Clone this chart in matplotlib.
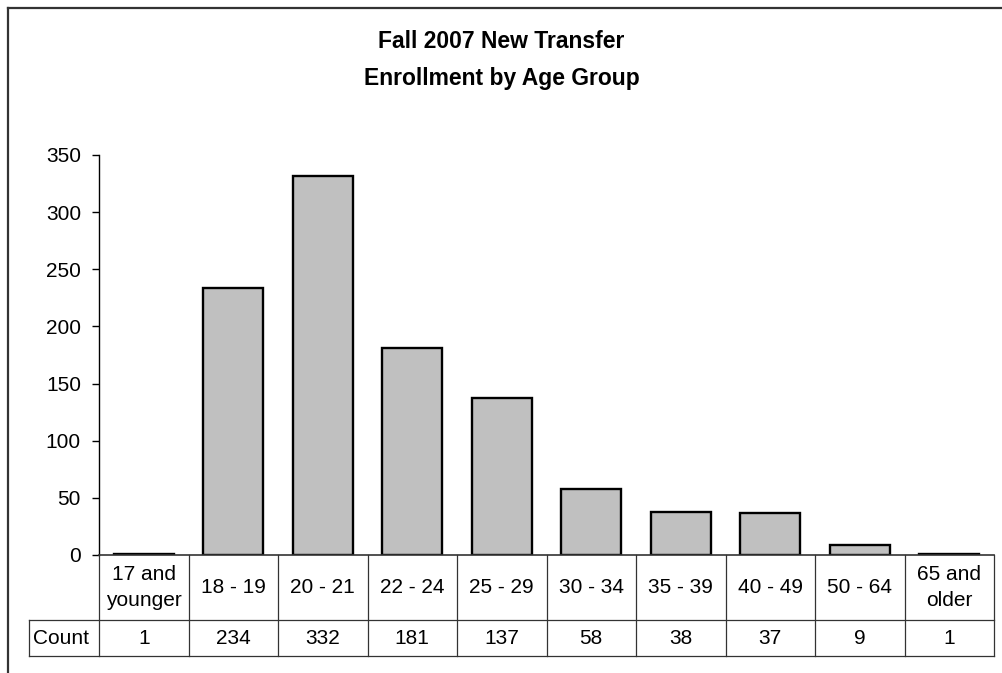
import matplotlib.pyplot as plt
from matplotlib.lines import Line2D

plt.rcParams['font.family'] = ['Liberation Sans', 'DejaVu Sans']

# data
age_groups = ['17 and\nyounger', '18 - 19', '20 - 21', '22 - 24', '25 - 29',
              '30 - 34', '35 - 39', '40 - 49', '50 - 64', '65 and\nolder']
counts = [1, 234, 332, 181, 137, 58, 38, 37, 9, 1]
row_label = 'Count'
yticks = [0, 50, 100, 150, 200, 250, 300, 350]

W, H = 1003, 673
fig = plt.figure(figsize=(W / 100, H / 100), dpi=100)

# main bar axes (pixel geometry from reference)
x0, x1 = 99, 994
y_top, y_zero, y_row, y_bot = 155, 555, 620, 656
ax = fig.add_axes([x0 / W, 1 - y_zero / H, (x1 - x0) / W, (y_zero - y_top) / H])
xs = list(range(len(counts)))
ax.bar(xs, counts, width=0.67, color='#C0C0C0', edgecolor='black', linewidth=1.7)
ax.set_xlim(-0.5, len(counts) - 0.5)
ax.set_ylim(0, 350)
ax.set_yticks(yticks)
ax.tick_params(axis='y', direction='out', length=5, width=1, labelsize=15, pad=8)
ax.set_xticks([])
for s in ['top', 'right', 'bottom']:
    ax.spines[s].set_visible(False)
ax.spines['left'].set_linewidth(1)

# data table below the bars
tab = fig.add_axes([x0 / W, 1 - y_bot / H, (x1 - x0) / W, (y_bot - y_zero) / H])
tab.set_xlim(-0.5, len(counts) - 0.5)
tab.set_ylim(0, 1)
tab.axis('off')
mid = (y_bot - y_row) / (y_bot - y_zero)
left_ext = -0.5 - (x0 - 29) / ((x1 - x0) / len(counts))
lc, lw = '#333333', 0.9
tab.plot([-0.5, len(counts) - 0.5], [1, 1], color=lc, lw=1.2, clip_on=False)
tab.plot([left_ext, len(counts) - 0.5], [mid, mid], color=lc, lw=lw, clip_on=False)
tab.plot([left_ext, len(counts) - 0.5], [0, 0], color=lc, lw=lw, clip_on=False)
tab.plot([left_ext, left_ext], [0, mid], color=lc, lw=lw, clip_on=False)
for i in range(len(counts) + 1):
    tab.plot([i - 0.5, i - 0.5], [0, 1], color=lc, lw=lw, clip_on=False)
for i, (lab, c) in enumerate(zip(age_groups, counts)):
    tab.text(i, (1 + mid) / 2, lab, ha='center', va='center', fontsize=15,
             linespacing=1.4)
    tab.text(i, mid / 2, str(c), ha='center', va='center', fontsize=15)
tab.text(left_ext + 0.04, mid / 2, row_label, ha='left', va='center', fontsize=15)

# title
fig.text(0.5, 1 - 42 / H, 'Fall 2007 New Transfer', ha='center', va='center',
         fontsize=16.5, fontweight='bold')
fig.text(0.5, 1 - 78 / H, 'Enrollment by Age Group', ha='center', va='center',
         fontsize=16.5, fontweight='bold')

# outer chart border (top and left visible)
fig.add_artist(Line2D([8 / W, 1.0], [1 - 7.5 / H, 1 - 7.5 / H], color='#333333', lw=1.6))
fig.add_artist(Line2D([8 / W, 8 / W], [0, 1 - 7.5 / H], color='#333333', lw=1.6))

fig.savefig('out.png', dpi=100)
